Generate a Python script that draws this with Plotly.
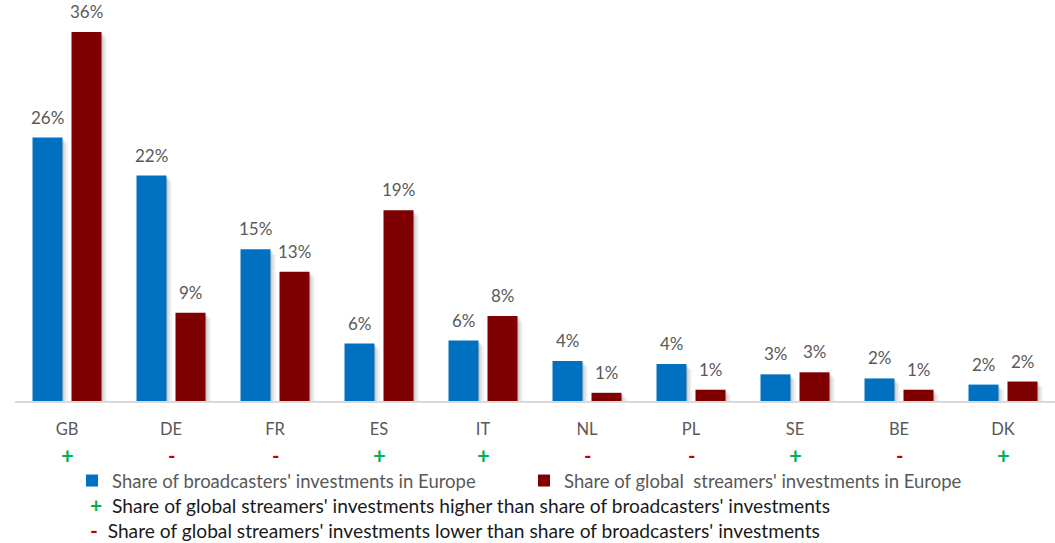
import plotly.graph_objects as go

countries = ["GB", "DE", "FR", "ES", "IT", "NL", "PL", "SE", "BE", "DK"]
broadcasters = [25.7, 22.0, 14.8, 5.6, 5.9, 3.9, 3.6, 2.6, 2.2, 1.6]
streamers = [36.0, 8.6, 12.6, 18.6, 8.3, 0.8, 1.1, 2.8, 1.1, 1.9]

name_b = "Share of broadcasters' investments in Europe"
name_s = "Share of global&nbsp; streamers' investments in Europe"
note_plus = "Share of global streamers' investments higher than share of broadcasters' investments"
note_minus = "Share of global streamers' investments lower than share of broadcasters' investments"

BLUE = "#0070C0"
RED = "#7F0000"
GREEN = "#00B050"
MINUS_RED = "#C00000"
GRAY = "#595959"
FONT = "Lato, 'Open Sans', sans-serif"

W, H = 1055, 543
ML, MR, MT, MB = 15, 0, 0, 142
plot_w = W - ML - MR
plot_h = H - MT - MB

cat_px = plot_w / len(countries)
bar_w = 30 / cat_px
half = 19.5 / cat_px
shadow_dx = 3 / cat_px

fig = go.Figure()

# soft shadows
for vals, off in ((broadcasters, -half), (streamers, half)):
    for k, a in ((5, 0.06), (3, 0.08), (1.5, 0.08)):
        fig.add_trace(go.Bar(
            x=countries, y=vals, base=-0.1 * k,
            width=bar_w, offset=off - bar_w / 2 + shadow_dx * k / 3,
            marker=dict(color=f"rgba(0,0,0,{a})", line=dict(width=0)),
            showlegend=False, hoverinfo="skip", cliponaxis=False,
        ))

fig.add_trace(go.Bar(
    x=countries, y=broadcasters, name=name_b,
    width=bar_w, offset=-half - bar_w / 2,
    marker=dict(color=BLUE, line=dict(width=0)), cliponaxis=False,
))
fig.add_trace(go.Bar(
    x=countries, y=streamers, name=name_s,
    width=bar_w, offset=half - bar_w / 2,
    marker=dict(color=RED, line=dict(width=0)), cliponaxis=False,
))

annotations = []
for i, c in enumerate(countries):
    for vals, off in ((broadcasters, -half), (streamers, half)):
        annotations.append(dict(
            x=i + off, y=vals[i], xref="x", yref="y",
            text=f"{vals[i]:.0f}%", showarrow=False,
            yanchor="bottom", yshift=8,
            font=dict(family=FONT, size=17, color=GRAY),
        ))
    higher = streamers[i] > broadcasters[i]
    annotations.append(dict(
        x=c, y=-54 / plot_h, xref="x", yref="paper",
        text="<b>+</b>" if higher else "<b>-</b>", showarrow=False,
        yanchor="middle",
        font=dict(family=FONT, size=22 if higher else 20,
                  color=GREEN if higher else MINUS_RED),
    ))

notes_text = "<br>".join(
    f"<span style='color:{col};font-size:21px'><b>{sym}</b></span>&nbsp; {txt}"
    for sym, col, txt in (("+", GREEN, note_plus), ("-", MINUS_RED, note_minus))
)
annotations.append(dict(
    x=(88 - ML) / plot_w, y=(plot_h - 517) / plot_h, xref="paper", yref="paper",
    xanchor="left", yanchor="middle", align="left", showarrow=False,
    text=notes_text,
    font=dict(family=FONT, size=19.2, color="#1a1a1a"),
))

fig.update_layout(
    width=W, height=H,
    margin=dict(l=ML, r=MR, t=MT, b=MB, autoexpand=False),
    paper_bgcolor="white", plot_bgcolor="white",
    barmode="overlay",
    showlegend=True,
    legend=dict(
        orientation="h", x=72 / W, xanchor="left", xref="container",
        y=1 - 462 / H, yanchor="top", yref="container",
        font=dict(family=FONT, size=18.5, color=GRAY),
        entrywidth=407, traceorder="normal",
        itemclick=False, itemdoubleclick=False,
    ),
    xaxis=dict(
        type="category", range=[-0.5, len(countries) - 0.5],
        showline=True, linecolor="#D9D9D9", linewidth=2,
        ticks="", ticklabelstandoff=12,
        tickfont=dict(family=FONT, size=16.5, color=GRAY),
        showgrid=False, zeroline=False,
    ),
    yaxis=dict(range=[0, plot_h / 10.25], visible=False, showgrid=False, zeroline=False),
    annotations=annotations,
)

fig.write_html(
    "out.html",
    config={"displayModeBar": False},
    post_script="document.body.style.margin='0';document.body.style.overflow='hidden';",
)
